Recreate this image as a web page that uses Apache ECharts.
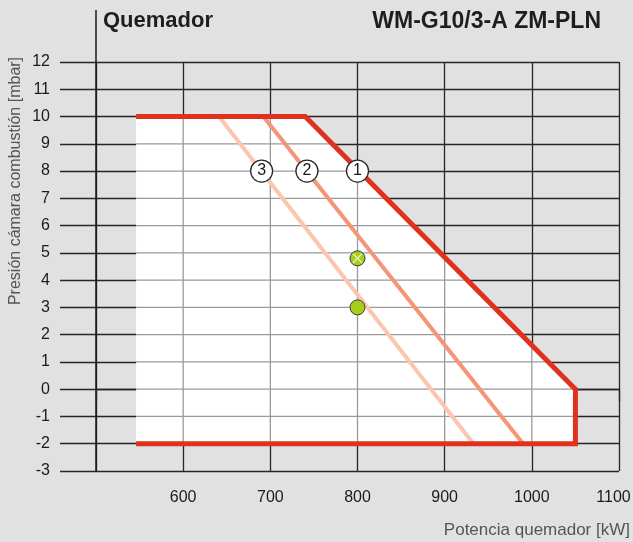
<!DOCTYPE html>
<html>
<head>
<meta charset="utf-8">
<script src="https://cdn.jsdelivr.net/npm/echarts@6/dist/echarts.min.js"></script>
<style>
  html, body { margin: 0; padding: 0; background: #e1e1e1; }
  #chart { width: 633px; height: 542px; }
</style>
</head>
<body>
<div id="chart"></div>
<script>
  // Arbeitsfeld (Hüllkurve 1), geschlossen
  var envX = [546, 740, 1050, 1050, 546, 546];
  var envY = [10, 10, 0, -2, -2, 10];
  // Kennlinien 2 und 3
  var line2X = [692, 990];
  var line2Y = [10, -2];
  var line3X = [641, 933];
  var line3Y = [10, -2];
  // Kreis-Markierungen
  var markX = [800, 742, 690];
  var markY = [8, 8, 8];
  var markText = ['1', '2', '3'];
  // grüne Punkte
  var ptX = [800, 800];
  var ptY = [4.8, 3];
  // Rasterwerte (für helles Raster im Arbeitsfeld)
  var xTicks = [600, 700, 800, 900, 1000];
  var yTicks = [-2, -1, 0, 1, 2, 3, 4, 5, 6, 7, 8, 9, 10];

  var zip = function (xs, ys) { return xs.map(function (x, i) { return [x, ys[i]]; }); };

  // Schnitt einer Geraden (x=c oder y=c) mit dem Polygon -> [min, max]
  function cut(c, vertical) {
    var hits = [];
    for (var i = 0; i < envX.length - 1; i++) {
      var a = vertical ? envX[i] : envY[i], b = vertical ? envX[i + 1] : envY[i + 1];
      var oa = vertical ? envY[i] : envX[i], ob = vertical ? envY[i + 1] : envX[i + 1];
      if (a === b) continue;
      if ((c - a) * (c - b) <= 0) hits.push(oa + (ob - oa) * (c - a) / (b - a));
    }
    if (hits.length < 2) return null;
    return [Math.min.apply(null, hits), Math.max.apply(null, hits)];
  }

  var font = '"Liberation Sans", Arial, sans-serif';
  var dark = '#262626';
  var chart = echarts.init(document.getElementById('chart'));

  var option = {
    backgroundColor: '#e1e1e1',
    animation: false,
    grid: { left: 96, right: 14, top: 62, bottom: 71, outerBoundsMode: 'none', containLabel: false },
    xAxis: {
      type: 'value',
      min: 500, max: 1100, interval: 100,
      axisLine: { show: true, lineStyle: { color: dark, width: 1.3 } },
      axisTick: { show: true, length: 12, lineStyle: { color: dark, width: 1.3 } },
      axisLabel: {
        margin: 19, color: '#1a1a1a', fontSize: 16, fontFamily: font,
        formatter: function (v) {
          if (v === 500) return '';
          return v === 1100 ? '{m|' + v + '}' : '' + v;
        },
        rich: { m: { fontSize: 16, fontFamily: font, color: '#1a1a1a', padding: [0, 11, 0, 0] } }
      },
      splitLine: { show: true, lineStyle: { color: dark, width: 1.3 } }
    },
    yAxis: {
      type: 'value',
      min: -3, max: 12, interval: 1,
      axisLine: { show: true, lineStyle: { color: '#1a1a1a', width: 1.5 } },
      axisTick: { show: true, length: 36, lineStyle: { color: dark, width: 1.3 } },
      axisLabel: { margin: 46, color: '#1a1a1a', fontSize: 16, fontFamily: font },
      splitLine: { show: true, lineStyle: { color: dark, width: 1.3 } }
    },
    graphic: [
      { type: 'line', shape: { x1: 96, y1: 10, x2: 96, y2: 62 }, style: { stroke: '#1a1a1a', lineWidth: 1.5 } },
      { type: 'text', left: 103, top: 10, style: { text: 'Quemador', font: 'bold 22px ' + font, fill: '#1e1e1e' } },
      { type: 'text', right: 32, top: 10, style: { text: 'WM-G10/3-A ZM-PLN', font: 'bold 23px ' + font, fill: '#1e1e1e' } },
      { type: 'text', right: 3, top: 522, style: { text: 'Potencia quemador [kW]', font: '17px ' + font, fill: '#555' } },
      {
        type: 'text', x: 16, y: 181, rotation: Math.PI / 2,
        style: { text: 'Presión cámara combustión [mbar]', font: '16px ' + font, fill: '#555', align: 'center', verticalAlign: 'middle' }
      }
    ],
    series: [
      {
        // weisses Arbeitsfeld mit hellem Raster
        type: 'custom',
        z: 1,
        silent: true,
        data: zip(envX, envY),
        renderItem: function (params, api) {
          if (params.dataIndex !== 0) return;
          var pts = envX.map(function (x, i) { return api.coord([x, envY[i]]); });
          var children = [{ type: 'polygon', shape: { points: pts }, style: { fill: '#ffffff' } }];
          xTicks.forEach(function (x) {
            var s = cut(x, true);
            if (!s) return;
            var p1 = api.coord([x, s[0]]), p2 = api.coord([x, s[1]]);
            children.push({ type: 'line', shape: { x1: p1[0], y1: p1[1], x2: p2[0], y2: p2[1] }, style: { stroke: '#9a9a9a', lineWidth: 1.3 } });
          });
          yTicks.forEach(function (y) {
            var s = cut(y, false);
            if (!s) return;
            var p1 = api.coord([s[0], y]), p2 = api.coord([s[1], y]);
            children.push({ type: 'line', shape: { x1: p1[0], y1: p1[1], x2: p2[0], y2: p2[1] }, style: { stroke: '#9a9a9a', lineWidth: 1.3 } });
          });
          return { type: 'group', children: children };
        }
      },
      {
        type: 'line', data: zip(line3X, line3Y), showSymbol: false, z: 3,
        lineStyle: { color: '#fcc6ae', width: 4 }
      },
      {
        type: 'line', data: zip(line2X, line2Y), showSymbol: false, z: 3,
        lineStyle: { color: '#f69478', width: 4 }
      },
      {
        // Begrenzung 1 (ohne linke Kante)
        type: 'line', data: zip(envX.slice(0, 5), envY.slice(0, 5)), showSymbol: false, z: 4,
        lineStyle: { color: '#e0301e', width: 5, join: 'miter' }
      },
      {
        type: 'scatter', z: 5, symbolSize: 22,
        data: markX.map(function (x, i) { return [x, markY[i], markText[i]]; }),
        itemStyle: { color: '#ffffff', borderColor: '#2a2a2a', borderWidth: 1.3, opacity: 1 },
        label: {
          show: true, position: 'inside', color: '#1a1a1a', fontSize: 16, fontFamily: font,
          formatter: function (p) { return p.value[2]; }
        }
      },
      {
        type: 'scatter', z: 5, symbolSize: 15,
        data: zip(ptX, ptY),
        itemStyle: { color: '#a6cd18', borderColor: '#3a3a3a', borderWidth: 1, opacity: 1 }
      },
      {
        type: 'scatter', z: 6, symbolSize: 10,
        symbol: 'path://M1,0L5,4L9,0L10,1L6,5L10,9L9,10L5,6L1,10L0,9L4,5L0,1Z',
        data: [[ptX[0], ptY[0]]],
        itemStyle: { color: '#e6efc2', opacity: 1 }
      }
    ]
  };

  chart.setOption(option);
</script>
</body>
</html>
